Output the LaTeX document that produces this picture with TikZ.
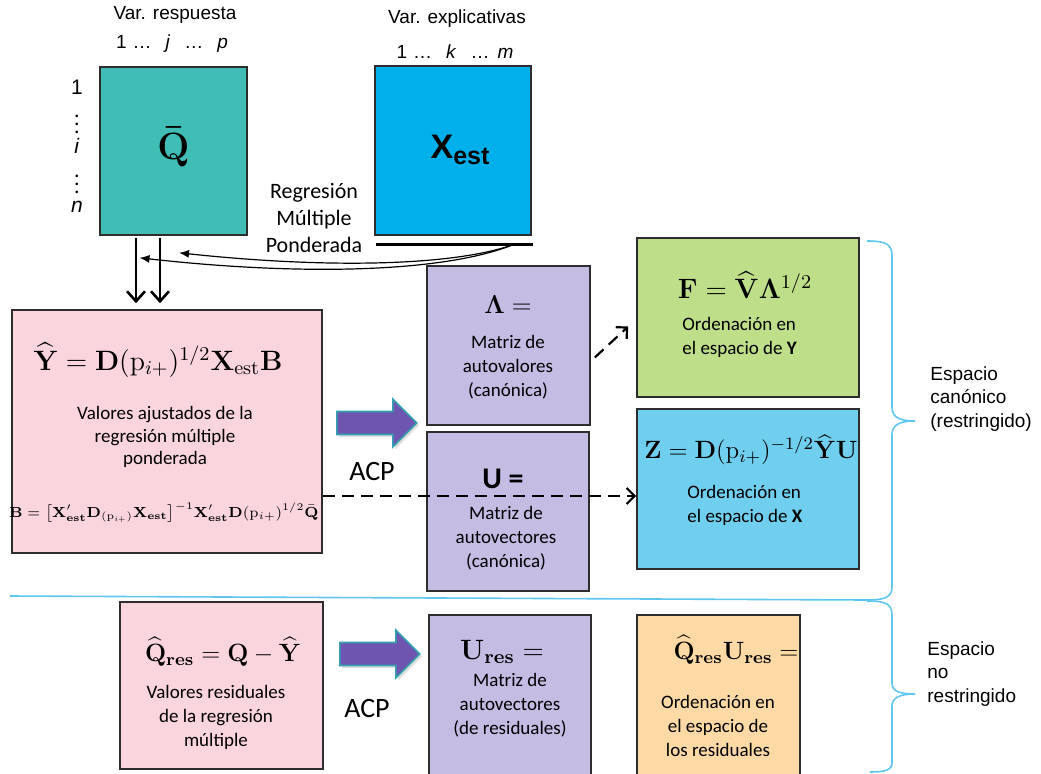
\RequirePackage{fix-cm}
\documentclass[tikz,border=0pt]{standalone}
\usepackage[no-math]{fontspec}
\setmainfont{Carlito}
\newfontfamily\arialfont{Liberation Sans}
\usepackage{amsmath}
\usepackage{bm}
\usepackage{tikz}
\usetikzlibrary{positioning}
\usetikzlibrary{calc}
\usetikzlibrary{arrows.meta}
\usetikzlibrary{shadows}

\definecolor{boxline}{RGB}{45,45,45}
\definecolor{qteal}{RGB}{64,190,182}
\definecolor{xblue}{RGB}{0,176,234}
\definecolor{rosa}{RGB}{250,213,222}
\definecolor{lila}{RGB}{196,188,227}
\definecolor{verde}{RGB}{190,222,138}
\definecolor{celeste}{RGB}{112,207,238}
\definecolor{naranja}{RGB}{252,217,165}
\definecolor{morado}{RGB}{110,86,176}
\definecolor{bordeflecha}{RGB}{50,160,175}
\definecolor{llave}{RGB}{95,198,240}

\tikzset{
    box/.style={draw=boxline, line width=0.8pt, inner sep=0pt},
    txt/.style={font=\fontsize{9.5}{12}\selectfont, align=center, inner sep=0pt},
    sans/.style={font=\arialfont\fontsize{9.5}{11.75}\selectfont, inner sep=0pt},
    formula/.style={font=\fontsize{#1}{#1}\selectfont, inner sep=0pt},
    flechagruesa/.style={line width=1.3pt, -{Straight Barb[length=5pt,width=9pt]}},
    flechafina/.style={line width=0.6pt, -{Latex[length=5pt,width=4pt]}},
    flechapunteada/.style={line width=1.1pt, dash pattern=on 6pt off 3.5pt, -{Straight Barb[length=4pt,width=8pt]}},
    acpflecha/.style={draw=bordeflecha, fill=morado, line width=0.8pt, line join=miter,
        drop shadow={opacity=0.25, shadow xshift=1.2pt, shadow yshift=-1.2pt}},
    llavestyle/.style={draw=llave, line width=0.8pt}
}

\begin{document}
\begin{tikzpicture}[x=0.5pt, y=-0.5pt]
    \useasboundingbox (0,0) rectangle (1041,773);
    \clip (0,0) rectangle (1041,773);

    % matrices de partida
    \node[box, fill=qteal, minimum width=73.5pt, minimum height=84pt] (qbar) at (173.5,151) {};
    \node[box, fill=xblue, minimum width=78pt, minimum height=84.5pt] (xest) at (453,150.5) {};
    \node[formula=19] (qbarlab) at (173.5,147) {$\bm{\bar{\mathrm{Q}}}$};
    \node[font=\arialfont\bfseries\fontsize{17}{17}\selectfont, inner sep=0pt] (xestlab) at (460,150)
        {X\raisebox{-0.35ex}{\fontsize{12.5}{12.5}\selectfont est}};

    \node[sans] (varresp) at (175,15) {Var. respuesta};
    \node[sans] (indj) at (172,44) {1\hspace{3pt}…\hspace{7pt}\textit{j}\hspace{7pt}…\hspace{7pt}\textit{p}};
    \node[sans] (varexp) at (457,19) {Var. explicativas};
    \node[sans] (indk) at (455,52) {1\hspace{3pt}…\hspace{7pt}\textit{k}\hspace{7pt}…\hspace{4pt}\textit{m}};

    \node[sans, font=\arialfont\fontsize{10.5}{10.5}\selectfont] (ind1) at (77,87) {1};
    \node[formula=11] (dots1) at (77,118) {$\vdots$};
    \node[sans, font=\arialfont\fontsize{10.5}{10.5}\selectfont] (indi) at (77,146) {\textit{i}};
    \node[formula=11] (dots2) at (77,178) {$\vdots$};
    \node[sans, font=\arialfont\fontsize{10.5}{10.5}\selectfont] (indn) at (77,207) {\textit{n}};

    % regresion
    \node[txt, font=\fontsize{11}{13.5}\selectfont] (reglab) at (314,218) {Regresión\\Múltiple\\Ponderada};
    \coordinate (regl) at ($(xest.south west)+(2,9)$);
    \coordinate (regr) at ($(xest.south east)+(1,9)$);
    \draw[line width=1.6pt] (regl) -- (regr);

    \coordinate (regstart) at ($(regr)+(-20,0)$);
    \coordinate (tipa) at ($(qbar.south)+(5.5,17)$);
    \coordinate (tipb) at ($(qbar.south)+(-34,22)$);
    \draw[flechafina] (regstart) .. controls ($(regstart)+(-60,21)$) and ($(tipa)+(150,16)$) .. (tipa);
    \draw[flechafina] (regstart) .. controls ($(regstart)+(-70,28)$) and ($(tipb)+(160,18)$) .. (tipb);

    % espacio canonico
    \node[box, fill=rosa, minimum width=155pt, minimum height=121.5pt] (yhat) at (167,431.5) {};
    \node[formula=14] (yhateq) at (158,360) {$\widehat{\mathbf{Y}} = \mathbf{D}(\mathrm{p}_{i+})^{1/2}\mathbf{X}_{\mathrm{est}}\mathbf{B}$};
    \node[txt, font=\fontsize{9.5}{11.25}\selectfont] (yhattxt) at (165,437) {Valores ajustados de la\\regresión múltiple\\ponderada};
    \node[formula=7.3] (beq) at (164,513)
        {$\mathbf{B} = \bigl[\mathbf{X}'_{\mathbf{est}}\mathbf{D}_{(\mathrm{p}_{i+})}\mathbf{X}_{\mathbf{est}}\bigr]^{-1}\mathbf{X}'_{\mathbf{est}}\mathbf{D}(\mathrm{p}_{i+})^{1/2}\bar{\mathbf{Q}}$};

    \coordinate (qa) at ($(qbar.south)+(-37.5,2)$);
    \coordinate (qb) at ($(qbar.south)+(-13.5,2)$);
    \draw[flechagruesa, shorten >=3pt] (qa) -- (qa |- yhat.north);
    \draw[flechagruesa, shorten >=3pt] (qb) -- (qb |- yhat.north);

    \node[box, fill=lila, minimum width=81.5pt, minimum height=79.5pt] (lambda) at (508.5,345.5) {};
    \node[formula=13] (lambdaeq) at (508,305) {$\mathbf{\Lambda} =$};
    \node[txt] (lambdatxt) at (508,367) {Matriz de\\autovalores\\(canónica)};

    \node[box, fill=lila, minimum width=81pt, minimum height=79.5pt] (ucan) at (508,511.5) {};
    \node[font=\bfseries\fontsize{15}{15}\selectfont, inner sep=0pt] (ucaneq) at (503,479) {U =};
    \node[txt] (ucantxt) at (506,538) {Matriz de\\autovectores\\(canónica)};

    \node[box, fill=verde, minimum width=111pt, minimum height=79.5pt] (fmat) at (748,317.5) {};
    \node[formula=14] (fmateq) at (745,285) {$\mathbf{F} = \widehat{\mathbf{V}}\mathbf{\Lambda}^{1/2}$};
    \node[txt, align=left, anchor=west] (fmattxt) at (682,337) {Ordenación en\\el espacio de \textbf{Y}};

    \node[box, fill=celeste, minimum width=111pt, minimum height=80pt] (zmat) at (748,489) {};
    \node[formula=12.5] (zmateq) at (751,450) {$\mathbf{Z} = \mathbf{D}(\mathrm{p}_{i+})^{-1/2}\widehat{\mathbf{Y}}\mathbf{U}$};
    \node[txt, align=left, anchor=west] (zmattxt) at (687,505) {Ordenación en\\el espacio de \textbf{X}};

    % flecha ACP superior
    \coordinate (acpa) at ($(yhat.east)+(14,-8.5)$);
    \draw[acpflecha] (acpa) ++(0,-11.5) -- ++(56,0) -- ++(0,-12.5) -- ++(24,24) -- ++(-24,24)
        -- ++(0,-12.5) -- ++(-56,0) -- cycle;
    \node[font=\fontsize{14}{14}\selectfont, inner sep=0pt] (acpalab) at (372,472) {ACP};

    \coordinate (zw) at ($(zmat.west)+(0,7)$);
    \draw[flechapunteada] (yhat.east |- zw) -- (zw);
    \coordinate (la) at ($(lambda.east)+(4,12)$);
    \coordinate (fa) at ($(fmat.west)+(-8,9)$);
    \draw[flechapunteada] (la) -- (fa);

    % espacio no restringido
    \node[box, fill=rosa, minimum width=101.5pt, minimum height=83.5pt] (qres) at (221.5,685.5) {};
    \node[formula=12.5] (qreseq) at (223,652) {$\widehat{\mathbf{Q}}_{\mathbf{res}} = \mathbf{Q} - \widehat{\mathbf{Y}}$};
    \node[txt] (qrestxt) at (216,717) {Valores residuales\\de la regresión\\múltiple};

    % flecha ACP inferior
    \coordinate (acpb) at ($(qres.east)+(16,-31.5)$);
    \draw[acpflecha] (acpb) ++(0,-11.5) -- ++(56,0) -- ++(0,-12.5) -- ++(24,24) -- ++(-24,24)
        -- ++(0,-12.5) -- ++(-56,0) -- cycle;
    \node[font=\fontsize{14}{14}\selectfont, inner sep=0pt] (acpblab) at (367,708) {ACP};

    \node[box, fill=lila, minimum width=81pt, minimum height=81pt] (ures) at (510,696) {};
    \node[formula=14] (ureseq) at (502,652) {$\mathbf{U}_{\mathbf{res}} =$};
    \node[txt] (urestxt) at (510,705) {Matriz de\\autovectores\\(de residuales)};

    \node[box, fill=naranja, minimum width=81.5pt, minimum height=81pt] (ordres) at (718.5,696) {};
    \node[formula=12.5] (ordreseq) at (736,650) {$\widehat{\mathbf{Q}}_{\mathbf{res}}\mathbf{U}_{\mathbf{res}} =$};
    \node[txt] (ordrestxt) at (718,726) {Ordenación en\\el espacio de\\los residuales};

    % llaves
    \draw[llavestyle] (10,596) -- (867,600);
    \draw[llavestyle] (867,241) .. controls (886,241) and (892,244) .. (892,256) -- (892,407)
        .. controls (892,417) and (899,421) .. (915,421)
        .. controls (899,421) and (892,425) .. (892,435) -- (892,587)
        .. controls (892,597) and (885,600) .. (867,600);
    \draw[llavestyle] (867,601) .. controls (886,601) and (892,604) .. (892,615) -- (892,683)
        .. controls (892,691) and (899,694) .. (915,694)
        .. controls (899,694) and (892,698) .. (892,706) -- (892,763)
        .. controls (892,770) and (885,772) .. (870,772);

    \node[sans, align=left, anchor=west] (canlab) at (930,399) {Espacio\\canónico\\(restringido)};
    \node[sans, align=left, anchor=west] (noreslab) at (927,674) {Espacio\\no\\restringido};

\end{tikzpicture}
\end{document}
